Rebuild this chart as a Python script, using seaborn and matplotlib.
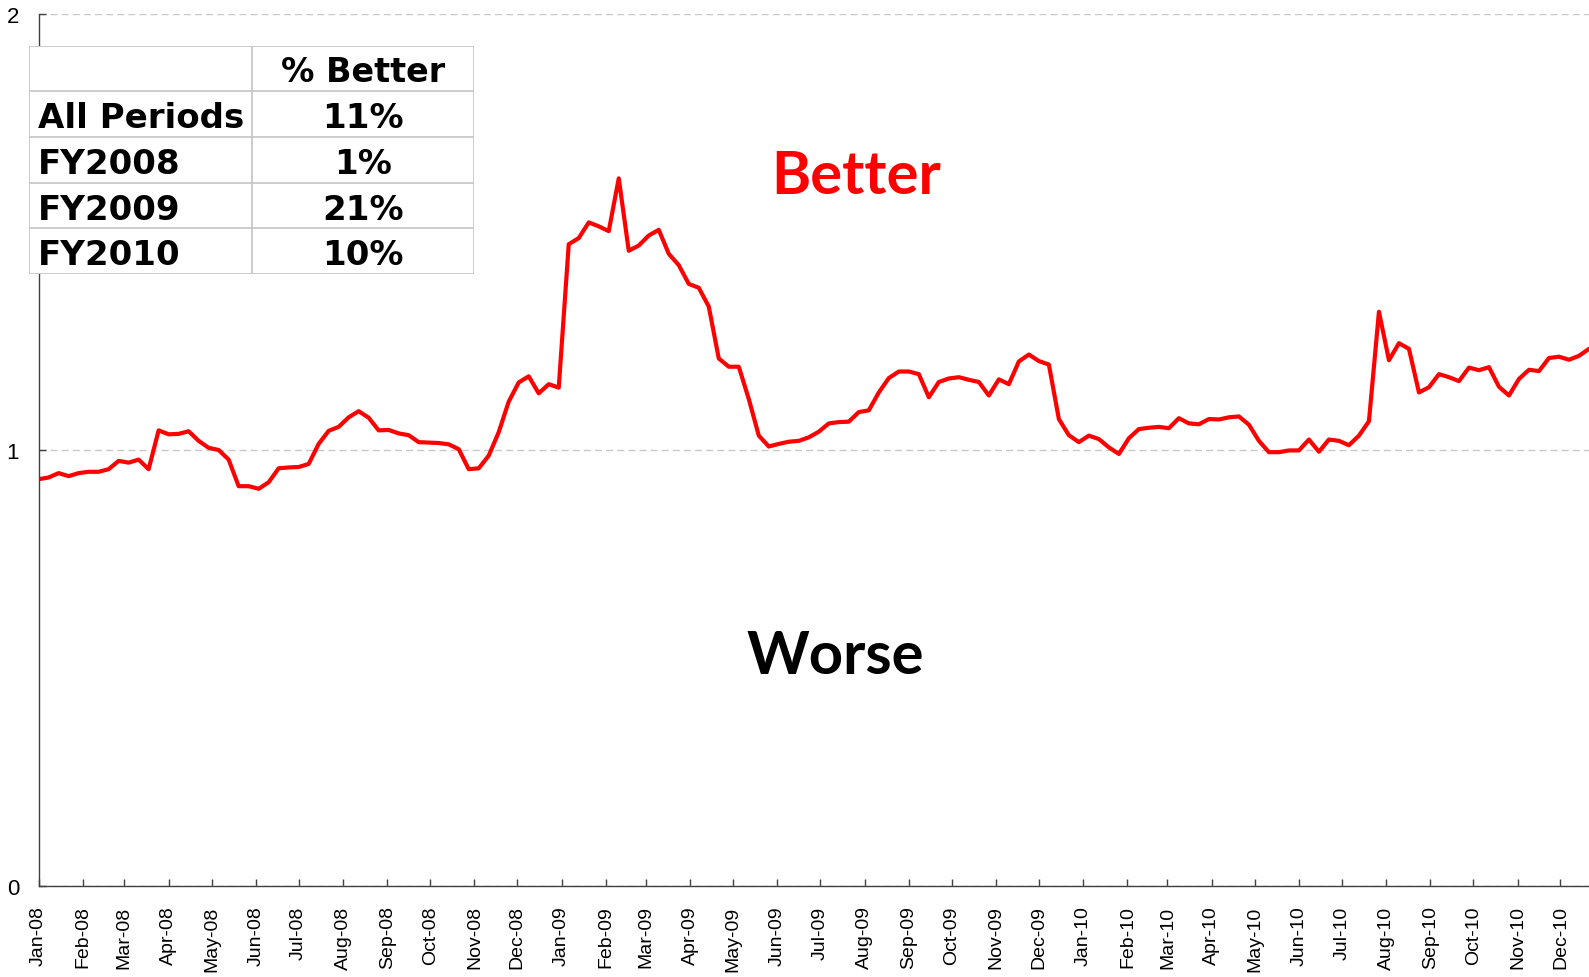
import numpy as np
import pandas as pd
import matplotlib
matplotlib.use('Agg')
import matplotlib.pyplot as plt
import matplotlib.dates as mdates
import seaborn as sns

# weekly ratio, first week starts 2008-01-01
start_date = '2008-01-01'
end_date = '2010-12-21'
ratio = [
    0.933, 0.937, 0.947, 0.940, 0.947, 0.950, 0.950, 0.956, 0.975, 0.971,
    0.978, 0.956, 1.045, 1.036, 1.037, 1.043, 1.021, 1.005, 1.000, 0.978,
    0.917, 0.917, 0.911, 0.926, 0.958, 0.960, 0.961, 0.968, 1.014, 1.044,
    1.053, 1.075, 1.089, 1.074, 1.045, 1.046, 1.038, 1.034, 1.018, 1.017,
    1.016, 1.013, 1.002, 0.956, 0.958, 0.987, 1.041, 1.111, 1.155, 1.169,
    1.130, 1.151, 1.143, 1.472, 1.486, 1.522, 1.513, 1.502, 1.623, 1.457,
    1.469, 1.492, 1.505, 1.450, 1.424, 1.381, 1.372, 1.329, 1.210, 1.191,
    1.191, 1.117, 1.033, 1.008, 1.014, 1.019, 1.021, 1.029, 1.042, 1.061,
    1.064, 1.065, 1.087, 1.091, 1.132, 1.165, 1.180, 1.180, 1.174, 1.121,
    1.156, 1.164, 1.167, 1.161, 1.156, 1.125, 1.162, 1.151, 1.203, 1.219,
    1.204, 1.196, 1.071, 1.034, 1.018, 1.033, 1.025, 1.006, 0.991, 1.027,
    1.048, 1.051, 1.053, 1.050, 1.073, 1.061, 1.059, 1.071, 1.070, 1.075,
    1.077, 1.058, 1.021, 0.995, 0.995, 0.999, 0.999, 1.024, 0.996, 1.024,
    1.021, 1.011, 1.033, 1.066, 1.317, 1.206, 1.245, 1.232, 1.132, 1.144,
    1.174, 1.167, 1.158, 1.189, 1.183, 1.190, 1.145, 1.125, 1.163, 1.184,
    1.181, 1.211, 1.214, 1.207, 1.216, 1.232,
]
y_ticks = [0, 1, 2]

table_head = '% Better'
table_rows = ['All Periods', 'FY2008', 'FY2009', 'FY2010']
table_vals = ['11%', '1%', '21%', '10%']

sns.set_style('white')
plt.rcParams['font.family'] = ['Liberation Sans', 'DejaVu Sans']
plt.rcParams['text.color'] = 'black'

weeks = pd.date_range(start_date, periods=len(ratio), freq='7D')
df = pd.DataFrame({'week': weeks, 'ratio': ratio})

W, H = 1589, 978
fig = plt.figure(figsize=(W / 100, H / 100), dpi=100)
ax = fig.add_axes([38.6 / W, 1 - 887 / H, 1 - 38.6 / W, (887 - 15) / H])

sns.lineplot(data=df, x='week', y='ratio', color='#ff0000', linewidth=3, ax=ax)

ax.set_xlim(pd.Timestamp(start_date), pd.Timestamp(end_date))
ax.set_ylim(0, 2)
ax.set_yticks(y_ticks)
ax.set_xlabel('')
ax.set_ylabel('')
ax.xaxis.set_major_locator(mdates.MonthLocator())
ax.xaxis.set_major_formatter(mdates.DateFormatter('%b-%y'))
ax.yaxis.grid(True, linestyle=(0, (5, 3)), color='#c8c8c8', linewidth=1)
ax.xaxis.grid(False)
ax.set_axisbelow(True)

sns.despine(ax=ax)
for s in ['left', 'bottom']:
    ax.spines[s].set_color('#404040')
    ax.spines[s].set_linewidth(1)

ax.tick_params(axis='both', direction='in', length=5, width=1, color='#404040', labelcolor='black')
ax.tick_params(axis='x', pad=14, labelsize=14, labelrotation=90)
ax.tick_params(axis='y', pad=14, labelsize=16)
ax.tick_params(axis='both', which='both', bottom=True, left=True)

ax.text(0.527, 0.795, 'Better', transform=ax.transAxes, ha='center', va='baseline',
        color='#ff0000', fontsize=43, fontweight='bold', family=['Lato', 'DejaVu Sans'])
ax.text(0.5137, 0.244, 'Worse', transform=ax.transAxes, ha='center', va='baseline',
        color='black', fontsize=43, fontweight='bold', family=['Lato', 'DejaVu Sans'])

# summary table (drawn in pixel units)
tl, tr, tt, tb = 29.3, 474.0, 46.7, 275.0
col_split = 251.7 - tl
tw, th = tr - tl, tb - tt
row_h = th / 5
tab = fig.add_axes([tl / W, 1 - tb / H, tw / W, th / H])
tab.set_xlim(0, tw)
tab.set_ylim(th, 0)
tab.axis('off')
tab.add_patch(plt.Rectangle((0, 0), tw, th, facecolor='white', edgecolor='none'))
gc = '#c8c8c8'
for i in range(6):
    tab.plot([0, tw], [i * row_h, i * row_h], color=gc, linewidth=1.3, solid_capstyle='butt')
for xx in [0, col_split, tw]:
    tab.plot([xx, xx], [0, th], color=gc, linewidth=1.3, solid_capstyle='butt')
val_x = (col_split + tw) / 2
tfont = ['DejaVu Sans']
tab.text(val_x, 35.5, table_head, ha='center', va='baseline', fontsize=24,
         fontweight='bold', color='black', family=tfont)
for i, (lab, val) in enumerate(zip(table_rows, table_vals)):
    base = (i + 1) * row_h + 36
    tab.text(9, base, lab, ha='left', va='baseline', fontsize=24.5,
             fontweight='bold', color='black', family=tfont)
    tab.text(val_x, base, val, ha='center', va='baseline', fontsize=24.5,
             fontweight='bold', color='black', family=tfont)

fig.savefig('out.png', dpi=100)
